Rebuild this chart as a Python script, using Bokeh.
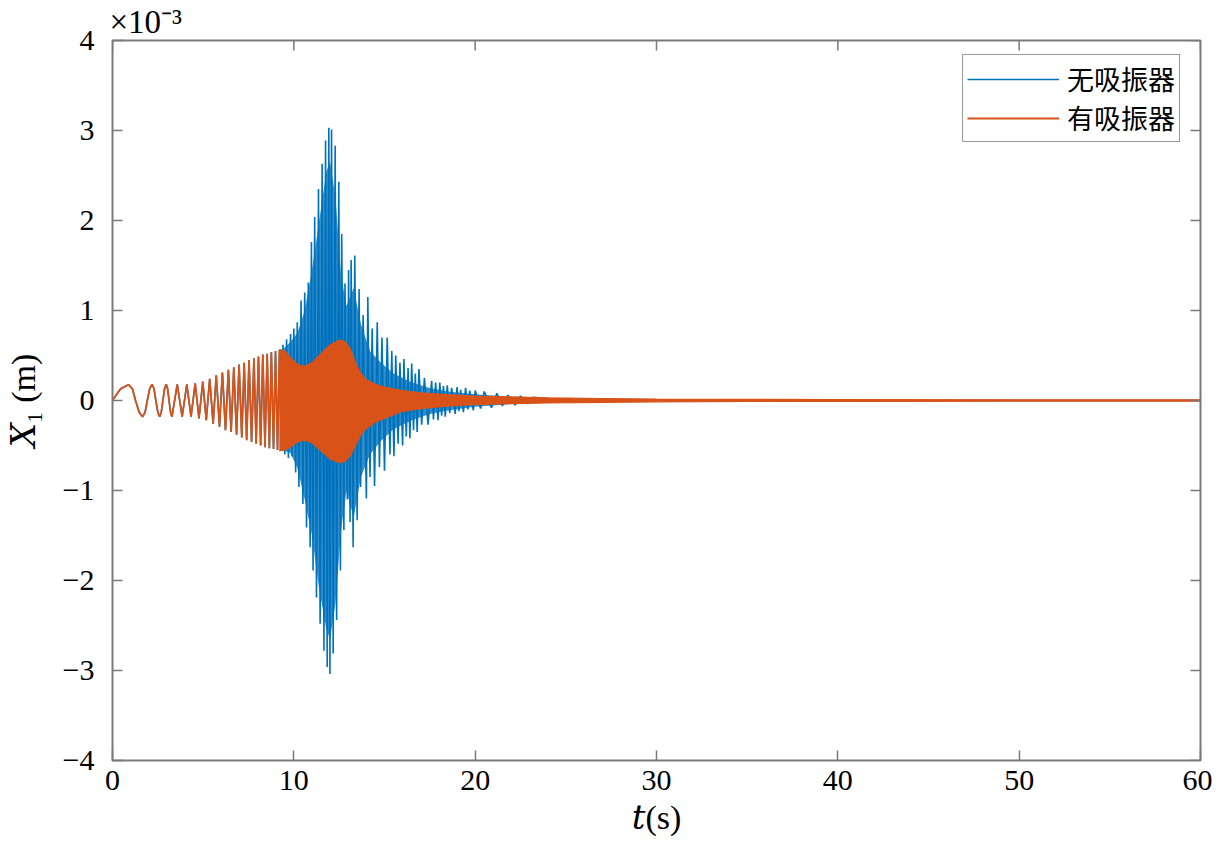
from bokeh.plotting import figure
from bokeh.models import (Range1d, FixedTicker, Legend, LegendItem, ColumnDataSource, Title)
from bokeh.embed import file_html
from bokeh.resources import INLINE

# ---------------- data (values in units of 1e-3 m) ----------------
# shared early response (both cases coincide before ~9.3 s)
early_t = [0.00, 0.20, 0.45, 0.88, 1.10, 1.27, 1.47, 1.66, 1.80, 1.92, 2.05, 2.18, 2.29, 2.39,
           2.50, 2.60, 2.69, 2.78, 2.87, 2.96, 3.04, 3.12, 3.20, 3.28, 3.57, 3.84, 4.10, 4.33,
           4.56, 4.77, 4.98, 5.17, 5.36, 5.55, 5.72, 5.90, 6.06, 6.23, 6.39, 6.54, 6.69, 6.84,
           6.98, 7.13, 7.26, 7.40, 7.53, 7.67, 7.80, 7.92, 8.05, 8.17, 8.29, 8.41, 8.53, 8.65,
           8.76, 8.88, 8.99, 9.10, 9.21, 9.31]
early_x = [0.00, 0.06, 0.13, 0.175, 0.13, 0.00, -0.13, -0.18, -0.13, 0.00, 0.13, 0.18, 0.13, 0.00,
           -0.13, -0.18, -0.13, 0.00, 0.13, 0.18, 0.13, 0.00, -0.13, -0.18, 0.18, -0.18, 0.18, -0.18,
           0.19, -0.20, 0.21, -0.22, 0.24, -0.26, 0.28, -0.29, 0.31, -0.33, 0.34, -0.35, 0.37, -0.38,
           0.40, -0.41, 0.42, -0.44, 0.45, -0.46, 0.47, -0.48, 0.49, -0.50, 0.51, -0.52, 0.52, -0.53,
           0.54, -0.54, 0.55, -0.55, 0.56, -0.56]

# without absorber: oscillation tips after 9.3 s
blue_tip_t = [9.40, 9.50, 9.60, 9.70, 9.82, 9.90, 10.00, 10.10, 10.19, 10.28, 10.40, 10.50, 10.60,
              10.70, 10.80, 10.90, 10.97, 11.06, 11.15, 11.25, 11.36, 11.45, 11.56, 11.66, 11.75,
              11.84, 11.93, 11.99, 12.08, 12.17, 12.28, 12.36, 12.48, 12.57, 12.64, 12.76, 12.82,
              12.95, 13.02, 13.10, 13.16, 13.27, 13.36, 13.49, 13.60, 13.68, 13.82, 14.00, 14.08,
              14.20, 14.32, 14.45, 14.60, 14.72, 14.86, 15.00, 15.15, 15.30, 15.40, 15.52, 15.62,
              15.75, 15.85, 16.00, 16.07, 16.20, 16.30, 16.40, 16.50, 16.60, 16.70, 16.80, 16.90,
              17.05, 17.20, 17.40, 17.60, 17.70, 17.82, 17.95, 18.05, 18.15, 18.25, 18.35, 18.46,
              18.60, 18.70, 18.90, 19.00, 19.10, 19.20, 19.35, 19.47, 19.60, 19.70, 19.90, 20.00,
              20.30, 20.50, 20.90, 21.20, 21.50, 21.80, 22.20, 22.50, 22.90, 23.20, 25.00, 60.00]
blue_tip_x = [0.62, -0.60, 0.68, -0.64, 0.74, -0.62, 0.80, -0.80, 0.87, -0.96, 1.11, -1.15, 1.20,
              -1.41, 1.31, -1.63, 1.76, -1.89, 2.04, -2.19, 2.35, -2.48, 2.63, -2.78, 2.89,
              -2.96, 3.03, -3.04, 3.01, -2.81, 2.83, -2.44, 2.43, -1.89, 1.85, -1.44, 1.30,
              -1.10, 1.45, -1.35, 1.56, -1.63, 1.61, -1.33, 1.24, -0.96, 0.95, -1.09, 1.15,
              -0.85, 0.80, -0.95, 0.87, -0.74, 0.70, -0.78, 0.70, -0.60, 0.55, -0.62, 0.50,
              -0.48, 0.42, -0.50, 0.46, -0.40, 0.36, -0.42, 0.41, -0.33, 0.30, -0.35, 0.35,
              -0.27, 0.25, -0.27, 0.22, -0.21, 0.20, -0.22, 0.20, -0.17, 0.16, -0.18, 0.17,
              -0.14, 0.14, -0.15, 0.15, -0.12, 0.12, -0.13, 0.14, -0.10, 0.11, -0.11, 0.11,
              -0.09, 0.10, -0.08, 0.08, -0.06, 0.06, -0.05, 0.05, -0.035, 0.035, 0.00, 0.00]

# without absorber: densely filled core of the oscillation
blue_core_t = [9.3, 9.8, 10.2, 10.6, 11.0, 11.4, 11.8, 12.0, 12.3, 12.6, 12.9, 13.3, 13.7, 14.2,
               14.8, 15.5, 16.5, 17.5, 18.5, 20.0, 22.0, 24.0]
blue_core_hi = [0.55, 0.65, 0.75, 1.00, 1.45, 2.00, 2.55, 2.65, 2.25, 1.40, 1.05, 1.25, 0.85, 0.55,
                0.42, 0.30, 0.20, 0.14, 0.10, 0.07, 0.04, 0.02]
blue_core_lo = [-0.55, -0.58, -0.75, -1.10, -1.50, -2.10, -2.55, -2.65, -2.25, -1.45, -1.00, -1.30,
                -0.85, -0.60, -0.45, -0.32, -0.22, -0.15, -0.11, -0.07, -0.04, -0.02]

# with absorber: envelope of the dense oscillation after 9.2 s
orange_env_t = [9.2, 9.5, 9.8, 10.2, 10.6, 11.0, 11.5, 12.0, 12.5, 12.8, 13.1, 13.4, 13.7, 14.0,
                14.5, 15.0, 16.0, 17.0, 18.0, 19.0, 20.0, 22.0, 24.0, 27.0, 30.0, 35.0, 40.0,
                50.0, 60.0]
orange_env_hi = [0.57, 0.55, 0.48, 0.40, 0.38, 0.42, 0.52, 0.62, 0.67, 0.66, 0.58, 0.42, 0.30, 0.23,
                 0.18, 0.15, 0.11, 0.085, 0.07, 0.06, 0.05, 0.04, 0.03, 0.022, 0.016, 0.012, 0.010,
                 0.008, 0.007]
orange_env_lo = [-0.56, -0.55, -0.52, -0.46, -0.44, -0.47, -0.56, -0.65, -0.69, -0.68, -0.62, -0.50,
                 -0.38, -0.31, -0.24, -0.20, -0.12, -0.09, -0.07, -0.055, -0.045, -0.035, -0.028,
                 -0.02, -0.015, -0.011, -0.010, -0.008, -0.007]

x_ticks = [0, 10, 20, 30, 40, 50, 60]
y_ticks = [-4, -3, -2, -1, 0, 1, 2, 3, 4]
legend_labels = ["无吸振器", "有吸振器"]
x_label = "\U0001D461(s)"
y_label = "\U0001D44B\u2081 (m)"
exponent_text = "\u00d710\u207b\u00b3"

BLUE = "#0072BD"
ORANGE = "#D95319"
FRAME = "#7a7a7a"
SERIF = "Liberation Serif"
LABEL_FONT = "Liberation Serif, DejaVu Serif, serif"
X0, X1, Y0, Y1 = 0, 60, -4, 4
TICK_DX = 10 / (1088 / 60)   # 10 px expressed in data units
TICK_DY = 10 / (720 / 8)

# ---------------- figure ----------------
p = figure(width=1212, height=838, x_range=Range1d(X0, X1), y_range=Range1d(Y0, Y1),
           output_backend="svg", toolbar_location=None,
           min_border_left=112, min_border_top=40, min_border_right=12, min_border_bottom=78)
p.xgrid.visible = False
p.ygrid.visible = False
p.outline_line_color = FRAME
p.outline_line_width = 2
p.background_fill_color = "white"

xax = p.below[0]
yax = p.left[0]

blue_src = ColumnDataSource(dict(t=early_t + blue_tip_t, x=early_x + blue_tip_x))
core_src = ColumnDataSource(dict(t=blue_core_t, hi=blue_core_hi, lo=blue_core_lo))
orange_src = ColumnDataSource(dict(t=early_t, x=early_x))
band_src = ColumnDataSource(dict(t=orange_env_t, hi=orange_env_hi, lo=orange_env_lo))

p.varea(x="t", y1="lo", y2="hi", source=core_src, fill_color=BLUE, fill_alpha=0.8)
blue_r = p.line("t", "x", source=blue_src, line_color=BLUE, line_width=1.6)
orange_r = p.line("t", "x", source=orange_src, line_color=ORANGE, line_width=1.8)
p.varea(x="t", y1="lo", y2="hi", source=band_src, fill_color=ORANGE, fill_alpha=1.0)
p.line("t", "hi", source=band_src, line_color=ORANGE, line_width=1.2)
p.line("t", "lo", source=band_src, line_color=ORANGE, line_width=1.2)

# mirrored inward ticks on the top and right edges of the box
p.segment(x0=x_ticks, y0=[Y1] * len(x_ticks), x1=x_ticks, y1=[Y1 - TICK_DY] * len(x_ticks),
          line_color=FRAME, line_width=1.5)
p.segment(x0=[X1] * len(y_ticks), y0=y_ticks, x1=[X1 - TICK_DX] * len(y_ticks), y1=y_ticks,
          line_color=FRAME, line_width=1.5)

xax.ticker = FixedTicker(ticks=x_ticks)
yax.ticker = FixedTicker(ticks=y_ticks)
for ax in [xax, yax]:
    ax.axis_line_color = None
    ax.major_tick_in = 10
    ax.major_tick_out = 0
    ax.major_tick_line_color = FRAME
    ax.major_tick_line_width = 1.5
    ax.minor_tick_line_color = None
    ax.major_label_text_font = SERIF
    ax.major_label_text_font_size = "30px"
    ax.major_label_text_color = "black"
    ax.axis_label_text_font = LABEL_FONT
    ax.axis_label_text_font_size = "34px"
    ax.axis_label_text_font_style = "normal"
    ax.axis_label_text_color = "black"

xax.major_label_standoff = 10
yax.major_label_standoff = 18
yax.major_label_overrides = {v: ("\u2212" + str(-v) if v < 0 else str(v)) for v in y_ticks}
xax.axis_label = x_label
yax.axis_label = y_label
xax.axis_label_standoff = 6
yax.axis_label_standoff = 18

# exponent above the top-left corner
p.add_layout(Title(text=exponent_text, text_font=SERIF, text_font_size="33px",
                   text_font_style="normal", text_color="black", align="left", offset=-3,
                   standoff=2), "above")

legend = Legend(items=[LegendItem(label=legend_labels[0], renderers=[blue_r]),
                       LegendItem(label=legend_labels[1], renderers=[orange_r])],
                location=(850, 618))
legend.label_text_font = "Noto Sans CJK SC"
legend.label_text_font_size = "27px"
legend.label_text_color = "black"
legend.glyph_width = 92
legend.glyph_height = 30
legend.label_height = 30
legend.label_standoff = 8
legend.padding = 4
legend.spacing = 0
legend.margin = 0
legend.border_line_color = "#333333"
legend.border_line_width = 1.5
legend.background_fill_color = "white"
legend.background_fill_alpha = 1.0
p.add_layout(legend)

open("out.html", "w").write(file_html(p, INLINE))
